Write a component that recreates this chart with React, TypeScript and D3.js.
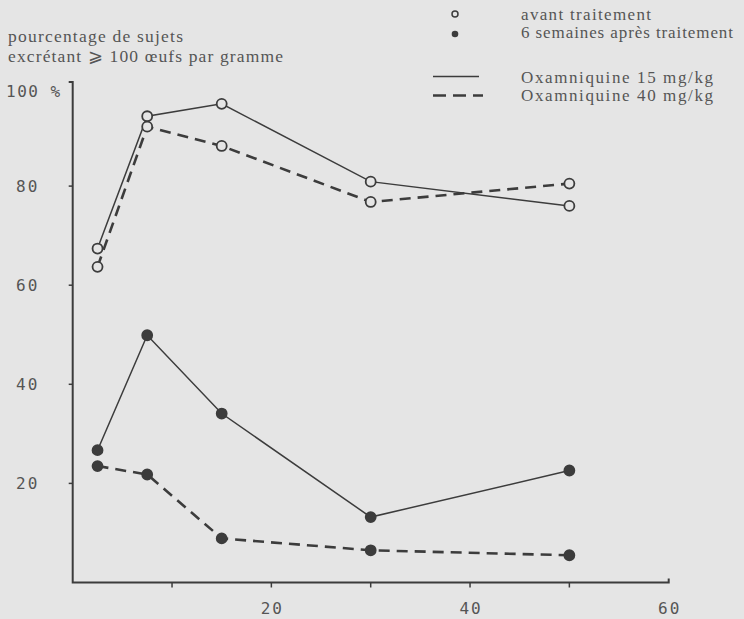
import React from "react";
import * as d3 from "d3";

const ages = [2.5, 7.5, 15, 30, 50];
const before15 = [67.4, 94.1, 96.6, 80.9, 76.0];
const before40 = [63.7, 92.0, 88.1, 76.8, 80.5];
const after15 = [26.7, 49.9, 34.1, 13.2, 22.6];
const after40 = [23.5, 21.8, 8.9, 6.5, 5.5];
const yTicks = [20, 40, 60, 80, 100];
const yTickLabels = ["20", "40", "60", "80", "100 %"];
const xTicks = [10, 20, 30, 40, 50, 60];
const xTickLabels = [20, 40, 60];
const titleLines = ["pourcentage de sujets", "excrétant ⩾ 100 œufs par gramme"];
const legendMarkers = ["avant traitement", "6 semaines après traitement"];
const legendLines = ["Oxamniquine 15 mg/kg", "Oxamniquine 40 mg/kg"];

const W = 744;
const H = 619;
const BG = "#e5e5e5";
const INK = "#3c3c3c";
const TXT = "#555";
const DASH = "11 7";
const SERIF = "Liberation Serif, serif";
const MONO = "DejaVu Sans Mono, monospace";

const titleWidths = [175, 275];
const markerWidths = [130, 212];
const lineWidths = [192, 192];

export default function App() {
  const x = d3.scaleLinear().domain([0, 60]).range([72.7, 668.7]);
  const y = d3.scaleLinear().domain([0, 100]).range([582.5, 87]);
  const line = d3
    .line<number>()
    .x((_, i) => x(ages[i]))
    .y((d) => y(d));

  const series = [
    { vals: before15, dashed: false, filled: false },
    { vals: before40, dashed: true, filled: false },
    { vals: after15, dashed: false, filled: true },
    { vals: after40, dashed: true, filled: true },
  ];

  return (
    <svg
      width={W}
      height={H}
      style={{ position: "absolute", left: 0, top: 0, background: BG }}
    >
      <rect x={0} y={0} width={W} height={H} fill={BG} />
      {titleLines.map((t, i) => (
        <text
          key={t}
          x={8}
          y={42 + i * 20}
          fontFamily={SERIF}
          fontSize={17.5}
          textLength={titleWidths[i]}
          lengthAdjust="spacing"
          fill={TXT}
        >
          {t}
        </text>
      ))}
      <path
        d={`M${x(0) - 4},${y(100) - 5}H${x(0)}V${y(0)}H${x(60)}V${y(0) - 4}`}
        fill="none"
        stroke={INK}
        strokeWidth={2}
      />
      {yTicks.slice(0, 4).map((t) => (
        <line key={t} x1={x(0) - 4} x2={x(0)} y1={y(t)} y2={y(t)} stroke={INK} strokeWidth={1.5} />
      ))}
      {xTicks.slice(0, 5).map((t) => (
        <line key={t} x1={x(t)} x2={x(t)} y1={y(0)} y2={y(0) + 5} stroke={INK} strokeWidth={1.5} />
      ))}
      {yTicks.map((t, i) => (
        <text
          key={t}
          x={i === 4 ? 6 : 16}
          y={y(t) + (i === 4 ? 10 : 6)}
          fontFamily={MONO}
          fontSize={16}
          letterSpacing={i === 4 ? 1.5 : 2}
          fill={TXT}
        >
          {yTickLabels[i]}
        </text>
      ))}
      {xTickLabels.map((t) => (
        <text
          key={t}
          x={x(t) + 1}
          y={614}
          textAnchor="middle"
          fontFamily={MONO}
          fontSize={16}
          letterSpacing={2}
          fill={TXT}
        >
          {t}
        </text>
      ))}
      {series.map((s, k) => (
        <g key={k}>
          <path
            d={line(s.vals) || ""}
            fill="none"
            stroke={INK}
            strokeWidth={s.dashed ? 2.6 : 1.5}
            strokeDasharray={s.dashed ? DASH : undefined}
          />
          {s.vals.map((v, i) => (
            <circle
              key={i}
              cx={x(ages[i])}
              cy={y(v)}
              r={5}
              fill={s.filled ? INK : BG}
              stroke={INK}
              strokeWidth={1.8}
            />
          ))}
        </g>
      ))}
      <circle cx={455} cy={14} r={3} fill={BG} stroke={INK} strokeWidth={1.5} />
      <circle cx={455} cy={34} r={3.3} fill={INK} />
      {legendMarkers.map((t, i) => (
        <text
          key={t}
          x={521}
          y={20 + i * 18}
          fontFamily={SERIF}
          fontSize={17}
          textLength={markerWidths[i]}
          lengthAdjust="spacing"
          fill={TXT}
        >
          {t}
        </text>
      ))}
      <line x1={433} x2={479} y1={76.5} y2={76.5} stroke={INK} strokeWidth={1.6} />
      <line x1={433} x2={483} y1={95.5} y2={95.5} stroke={INK} strokeWidth={2.6} strokeDasharray="13 7" />
      {legendLines.map((t, i) => (
        <text
          key={t}
          x={521}
          y={82.5 + i * 18.5}
          fontFamily={SERIF}
          fontSize={17}
          textLength={lineWidths[i]}
          lengthAdjust="spacing"
          fill={TXT}
        >
          {t}
        </text>
      ))}
    </svg>
  );
}
